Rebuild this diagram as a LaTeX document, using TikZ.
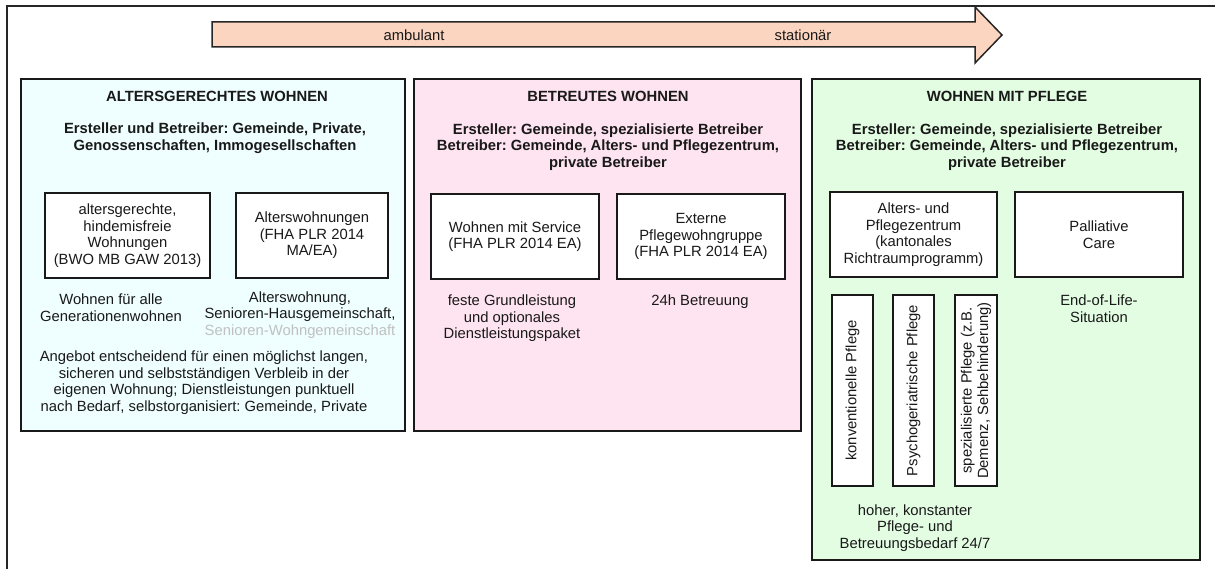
\documentclass[tikz,border=0pt]{standalone}
\usepackage{fontspec}
\setmainfont{Liberation Sans}
\frenchspacing
\begin{document}
\begin{tikzpicture}[x=1pt,y=-1pt,
  every node/.style={inner sep=0pt, outer sep=0pt, text=black!90, font=\fontsize{14.8}{16.6}\selectfont, align=center},
  panel/.style={draw=black!90, line width=1.8pt},
  innerbox/.style={draw=black!90, line width=1.5pt, fill=white},
  titletext/.style={font=\fontsize{14.8}{16.6}\selectfont\bfseries},
  plain/.style={font=\fontsize{14.8}{16.6}\selectfont},
  vtext/.style={rotate=90, font=\fontsize{14.8}{16.6}\selectfont}
]
\useasboundingbox (0,0) rectangle (1215,569);
\definecolor{panelblue}{HTML}{EFFEFE}
\definecolor{panelpink}{HTML}{FEE3F0}
\definecolor{panelgreen}{HTML}{E3FDE3}
\definecolor{arrowfill}{HTML}{FBD5BF}
\definecolor{lightgraytext}{HTML}{C0C0C0}

% outer frame
\draw[line width=1.8pt, draw=black!85] (7,6) rectangle (1230,590);

% arrow
\draw[line width=1.5pt, draw=black!85, fill=arrowfill, line join=miter]
  (212,22) -- (975,22) -- (975,7) -- (1002,35) -- (975,63) -- (975,47) -- (212,47) -- cycle;
\node[plain] (amb) at (414,35) {ambulant};
\node[plain] (sta) at (803,35) {stationär};

% panels
\node[panel, fill=panelblue, minimum width=384pt, minimum height=352pt] (p1) at (213,255) {};
\node[panel, fill=panelpink, minimum width=387pt, minimum height=352pt] (p2) at (607.5,255) {};
\node[panel, fill=panelgreen, minimum width=388pt, minimum height=481pt] (p3) at (1006,319.5) {};

% panel 1
\node[titletext] (t1) at (217,96) {ALTERSGERECHTES WOHNEN};
\node[titletext] (e1) at (215,138) {Ersteller und Betreiber: Gemeinde, Private,\\Genossenschaften, Immogesellschaften};
\node[innerbox, minimum width=165pt, minimum height=85pt] (a) at (127.5,235.5)
  {altersgerechte,\\hindemisfreie\\Wohnungen\\(BWO MB GAW 2013)};
\node[innerbox, minimum width=152pt, minimum height=85pt] (b) at (312,235.5)
  {Alterswohnungen\\(FHA PLR 2014\\MA/EA)};
\node[plain] (wa) at (111,308) {Wohnen für alle\\Generationenwohnen};
\node[plain] (aw) at (300,315) {Alterswohnung,\\Senioren-Hausgemeinschaft,\\\textcolor{lightgraytext}{Senioren-Wohngemeinschaft}};
\node[plain] (ang) at (204,382.5) {Angebot entscheidend für einen möglichst langen,\\sicheren und selbstständigen Verbleib in der\\eigenen Wohnung; Dienstleistungen punktuell\\nach Bedarf, selbstorganisiert: Gemeinde, Private};

% panel 2
\node[titletext] (t2) at (608,96) {BETREUTES WOHNEN};
\node[titletext] (e2) at (608,147) {Ersteller: Gemeinde, spezialisierte Betreiber\\Betreiber: Gemeinde, Alters- und Pflegezentrum,\\private Betreiber};
\node[innerbox, minimum width=168pt, minimum height=85pt] (c) at (515,236.5)
  {Wohnen mit Service\\(FHA PLR 2014 EA)};
\node[innerbox, minimum width=168pt, minimum height=85pt] (d) at (701,236.5)
  {Externe\\Pflegewohngruppe\\(FHA PLR 2014 EA)};
\node[plain] (fg) at (512,318.5) {feste Grundleistung\\und optionales\\Dienstleistungspaket};
\node[plain] (h24) at (700,302) {24h Betreuung};

% panel 3
\node[titletext] (t3) at (1007,96) {WOHNEN MIT PFLEGE};
\node[titletext] (e3) at (1007,147) {Ersteller: Gemeinde, spezialisierte Betreiber\\Betreiber: Gemeinde, Alters- und Pflegezentrum,\\private Betreiber};
\node[innerbox, minimum width=167pt, minimum height=85pt] (ez) at (913.5,234.5)
  {Alters- und\\Pflegezentrum\\(kantonales\\Richtraumprogramm)};
\node[innerbox, minimum width=168pt, minimum height=85pt] (pc) at (1099,234.5)
  {Palliative\\Care};
\node[innerbox, minimum width=41pt, minimum height=191pt] (g) at (852.5,390.5) {};
\node[innerbox, minimum width=41pt, minimum height=191pt] (h) at (913.5,390.5) {};
\node[innerbox, minimum width=42pt, minimum height=191pt] (i) at (976,390.5) {};
\node[vtext] (gt) at (g.center) {konventionelle Pflege};
\node[vtext] (ht) at (h.center) {Psychogeriatrische Pflege};
\node[vtext] (it) at (i.center) {spezialisierte Pflege (z.B.\\Demenz, Sehbehinderung)};
\node[plain] (eol) at (1099,308.5) {End-of-Life-\\Situation};
\node[plain] (hk) at (915,528) {hoher, konstanter\\Pflege- und\\Betreuungsbedarf 24/7};
\end{tikzpicture}
\end{document}
